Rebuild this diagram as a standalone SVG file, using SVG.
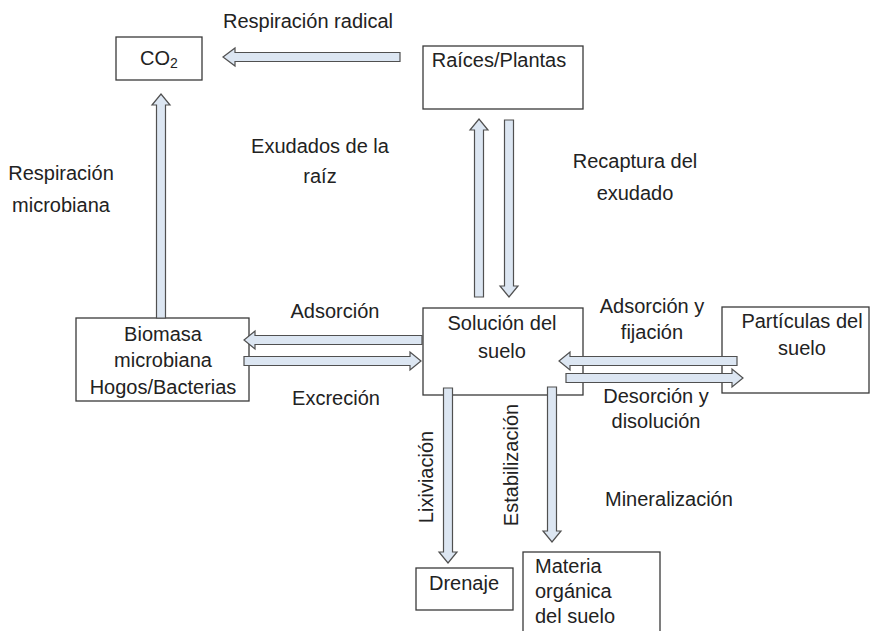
<svg xmlns="http://www.w3.org/2000/svg" width="870" height="631" viewBox="0 0 870 631">
<style>
  .box{fill:#ffffff;stroke:#3a3a3a;stroke-width:1.3}
  .arr{fill:#dce6f2;stroke:#505050;stroke-width:1.2;stroke-linejoin:miter}
  text{font-family:"Liberation Sans",Arial,sans-serif;font-size:20px;fill:#222222}
  .c{text-anchor:middle}
</style>
<rect width="870" height="631" fill="#ffffff"/>
<g id="nodes">
  <g id="co2">
    <rect class="box" x="116" y="37" width="86" height="43"/>
    <text class="c" x="159" y="65">CO<tspan font-size="14" dy="3">2</tspan></text>
  </g>
  <g id="raices">
    <rect class="box" x="423" y="46" width="160" height="63"/>
    <text class="c" x="499" y="67">Raíces/Plantas</text>
  </g>
  <g id="biomasa">
    <rect class="box" x="76" y="318" width="173" height="83"/>
    <text class="c" x="163" y="341">Biomasa</text>
    <text class="c" x="163" y="367">microbiana</text>
    <text class="c" x="163" y="394">Hogos/Bacterias</text>
  </g>
  <g id="solucion">
    <rect class="box" x="423" y="308" width="160" height="87"/>
    <text class="c" x="502" y="330">Solución del</text>
    <text class="c" x="502" y="358">suelo</text>
  </g>
  <g id="particulas">
    <rect class="box" x="722" y="307" width="147" height="86"/>
    <text class="c" x="802" y="328">Partículas del</text>
    <text class="c" x="802" y="355">suelo</text>
  </g>
  <g id="drenaje">
    <rect class="box" x="416" y="568" width="97" height="42"/>
    <text class="c" x="464" y="590">Drenaje</text>
  </g>
  <g id="materia">
    <rect class="box" x="523" y="552" width="137" height="90"/>
    <text x="535" y="573">Materia</text>
    <text x="535" y="598">orgánica</text>
    <text x="535" y="623">del suelo</text>
  </g>
</g>
<g id="connectors">
  <path class="arr" d="M400,52.5 H235 V48 L223,57 L235,66 V61.5 H400 Z"/>
  <path class="arr" d="M156.5,318 V105 H152 L161,94 L170,105 H165.5 V318 Z"/>
  <path class="arr" d="M474.5,297 V130 H470 L479,119 L488,130 H483.5 V297 Z"/>
  <path class="arr" d="M504.5,120 V286 H500 L509,297 L518,286 H513.5 V120 Z"/>
  <path class="arr" d="M422,335.5 H255 V331 L244,340 L255,349 V344.5 H422 Z"/>
  <path class="arr" d="M244,356.5 H410 V352 L421,361 L410,370 V365.5 H244 Z"/>
  <path class="arr" d="M737,356.5 H570 V352 L559,361 L570,370 V365.5 H737 Z"/>
  <path class="arr" d="M566,373.5 H732 V369 L743,378 L732,387 V382.5 H566 Z"/>
  <path class="arr" d="M443.5,388 V552 H439 L448,563 L457,552 H452.5 V388 Z"/>
  <path class="arr" d="M547.5,387 V531 H543 L552,542 L561,531 H556.5 V387 Z"/>
</g>
<g id="labels">
  <text class="c" x="308" y="28">Respiración radical</text>
  <text class="c" x="61" y="180">Respiración</text>
  <text class="c" x="61" y="212">microbiana</text>
  <text class="c" x="320" y="153">Exudados de la</text>
  <text class="c" x="320" y="183">raíz</text>
  <text class="c" x="635" y="168">Recaptura del</text>
  <text class="c" x="635" y="200">exudado</text>
  <text class="c" x="335" y="318">Adsorción</text>
  <text class="c" x="336" y="405">Excreción</text>
  <text class="c" x="652" y="313">Adsorción y</text>
  <text class="c" x="652" y="339">fijación</text>
  <text class="c" x="656" y="403">Desorción y</text>
  <text class="c" x="656" y="428">disolución</text>
  <text x="605" y="506">Mineralización</text>
  <text class="c" transform="translate(433,477) rotate(-90)">Lixiviación</text>
  <text class="c" transform="translate(518,465) rotate(-90)">Estabilización</text>
</g>
</svg>
